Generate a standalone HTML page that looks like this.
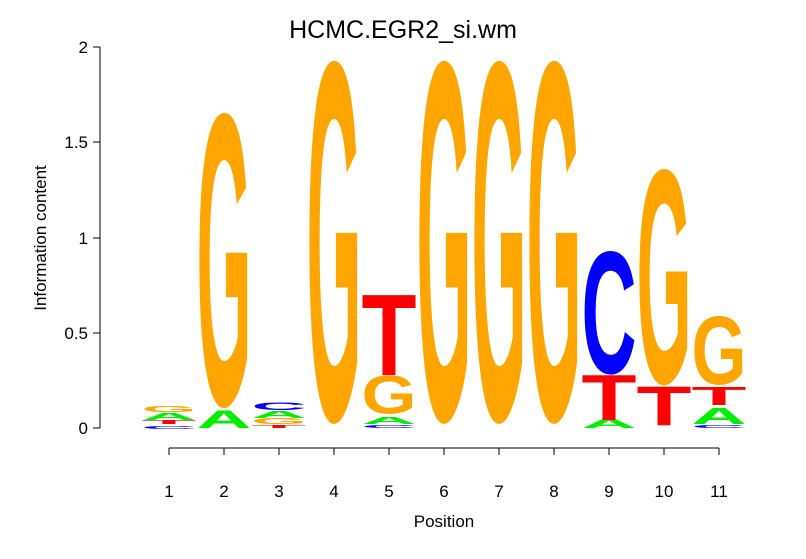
<!DOCTYPE html>
<html><head><meta charset="utf-8"><style>body{margin:0;background:#fff}svg{display:block}</style></head>
<body>
<svg id="s" width="806" height="559" xmlns="http://www.w3.org/2000/svg" font-family="Liberation Sans, sans-serif">
<text x="403" y="38" font-size="25" text-anchor="middle">HCMC.EGR2_si.wm</text>
<line x1="100" y1="47" x2="100" y2="428" stroke="#000"/>
<g stroke="#000">
<line x1="93" y1="428" x2="100" y2="428"/><line x1="93" y1="333" x2="100" y2="333"/><line x1="93" y1="238" x2="100" y2="238"/><line x1="93" y1="142" x2="100" y2="142"/><line x1="93" y1="47" x2="100" y2="47"/>
</g>
<g font-size="17" text-anchor="end">
<text x="88" y="434">0</text><text x="88" y="339">0.5</text><text x="88" y="244">1</text><text x="88" y="148">1.5</text><text x="88" y="53">2</text>
</g>
<text transform="translate(46,238) rotate(-90)" font-size="17" text-anchor="middle">Information content</text>
<line x1="169" y1="448" x2="719" y2="448" stroke="#000"/>
<g id="xt" font-size="17" text-anchor="middle"></g>
<text x="444" y="527" font-size="17" text-anchor="middle">Position</text>
<g id="logo" font-weight="bold"></g>
</svg>
<script>
var ns="http://www.w3.org/2000/svg";
var col={A:"#00EE00",C:"#0000FF",G:"#FFA500",T:"#FF0000"};
var xt=document.getElementById("xt");
for(var i=1;i<=11;i++){var cx=169+55*(i-1);
 var l=document.createElementNS(ns,"line");l.setAttribute("x1",cx);l.setAttribute("x2",cx);l.setAttribute("y1",448);l.setAttribute("y2",455);l.setAttribute("stroke","#000");xt.appendChild(l);
 var t=document.createElementNS(ns,"text");t.setAttribute("x",cx);t.setAttribute("y",497);t.textContent=i;xt.appendChild(t);}
var d=[
[1,"C",429,426],[1,"T",424,420],[1,"A",420,413],[1,"G",412,406],
[2,"A",428,411],[2,"G",409,113],
[3,"T",428,425],[3,"G",424,418],[3,"A",418,411],[3,"C",410,402],
[4,"G",425,61],
[5,"C",428,425],[5,"A",424,417],[5,"G",414,375],[5,"T",375,295],
[6,"G",425,61],[7,"G",425,61],[8,"G",425,61],
[9,"A",428,419],[9,"T",420,375],[9,"C",375,251],
[10,"T",425,387],[10,"G",386,169],
[11,"C",428,425],[11,"A",424,408],[11,"T",405,387],[11,"G",385,316]
];
var g=document.getElementById("logo");
d.forEach(function(e){
 var cx=169+55*(e[0]-1),x0=cx-27.5,h=e[2]-e[3];
 var round=(e[1]=="G"||e[1]=="C");
 var cap=round?71:68.8, base=round?1.2:0;
 var t=document.createElementNS(ns,"text");
 t.setAttribute("x",0);t.setAttribute("y",-base);t.setAttribute("font-size",100);
 t.setAttribute("textLength",55);t.setAttribute("lengthAdjust","spacingAndGlyphs");
 t.setAttribute("fill",col[e[1]]);
 t.setAttribute("transform","translate("+x0+","+e[2]+") scale(1,"+(h/cap)+")");
 t.textContent=e[1];g.appendChild(t);
});
</script>
</body></html>
